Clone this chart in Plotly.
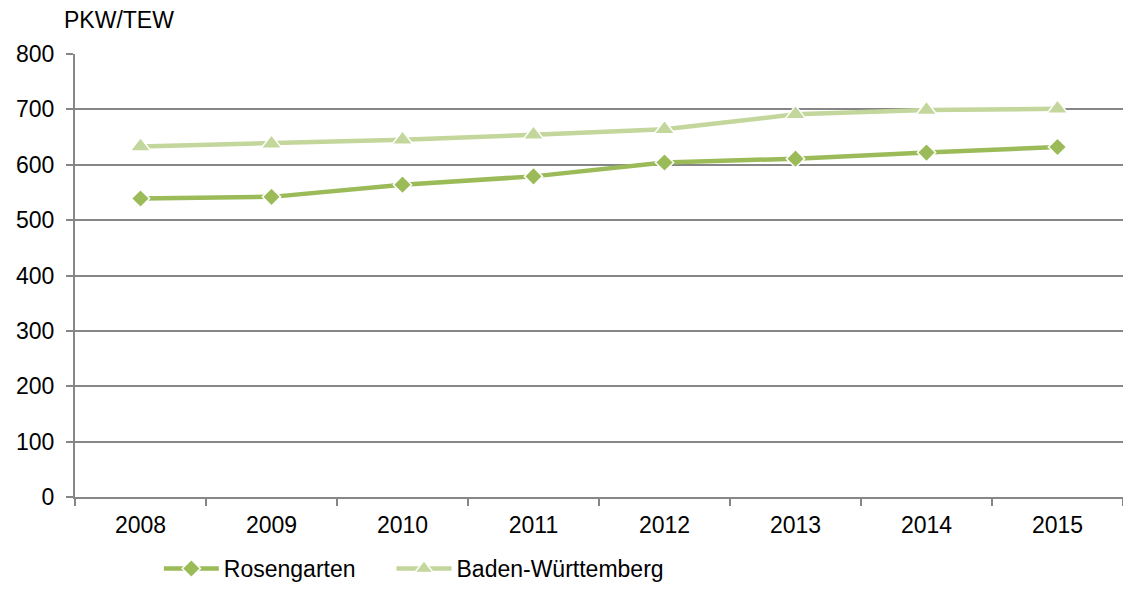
import plotly.graph_objects as go

years = ["2008", "2009", "2010", "2011", "2012", "2013", "2014", "2015"]
rosengarten = [539, 542, 564, 579, 604, 611, 622, 632]
baden_wuerttemberg = [633, 638, 645, 654, 664, 691, 699, 701]

axis_grey = "#868686"
font_family = "Liberation Sans, Arial, sans-serif"
fsize = 23

fig = go.Figure()
fig.add_trace(go.Scatter(
    x=years, y=rosengarten, name="Rosengarten", mode="lines+markers",
    line=dict(color="#9BBB59", width=4.5),
    marker=dict(symbol="diamond", size=14, color="#9BBB59",
                line=dict(color="white", width=1.5)),
    legend="legend",
))
fig.add_trace(go.Scatter(
    x=years, y=baden_wuerttemberg, name="Baden-Württemberg", mode="lines+markers",
    line=dict(color="#C3D69B", width=4.5),
    marker=dict(symbol="triangle-up", size=18, color="#C3D69B",
                line=dict(color="white", width=1.5)),
    legend="legend2",
))

legend_style = dict(orientation="h", xanchor="left", y=-0.112, yanchor="top",
                    font=dict(size=fsize), itemwidth=55, bgcolor="rgba(0,0,0,0)")

fig.update_layout(
    width=1123, height=590,
    margin=dict(l=75, r=0, t=54, b=92),
    paper_bgcolor="white", plot_bgcolor="white",
    font=dict(family=font_family, size=fsize, color="black"),
    showlegend=True,
    legend=dict(x=0.08, **legend_style),
    legend2=dict(x=0.302, **legend_style),
    annotations=[dict(text="PKW/TEW", x=(62 - 75) / 1048, xref="paper", xanchor="left",
                      y=1 + (54 - 20) / 444, yref="paper", yanchor="middle",
                      showarrow=False, font=dict(size=fsize))],
)

fig.update_xaxes(
    type="category", range=[-0.5, 7.5],
    showline=True, linecolor=axis_grey, linewidth=2,
    ticks="outside", tickson="boundaries", ticklen=7, tickcolor=axis_grey, tickwidth=2,
    showgrid=False, tickfont=dict(size=fsize), ticklabelstandoff=6,
)
fig.update_yaxes(
    range=[0, 800], dtick=100,
    showline=True, linecolor=axis_grey, linewidth=2,
    ticks="outside", ticklen=7, tickcolor=axis_grey, tickwidth=2,
    showgrid=True, gridcolor=axis_grey, gridwidth=2,
    zeroline=False, tickfont=dict(size=fsize), ticklabelstandoff=7,
)

fig.write_html("out.html")
